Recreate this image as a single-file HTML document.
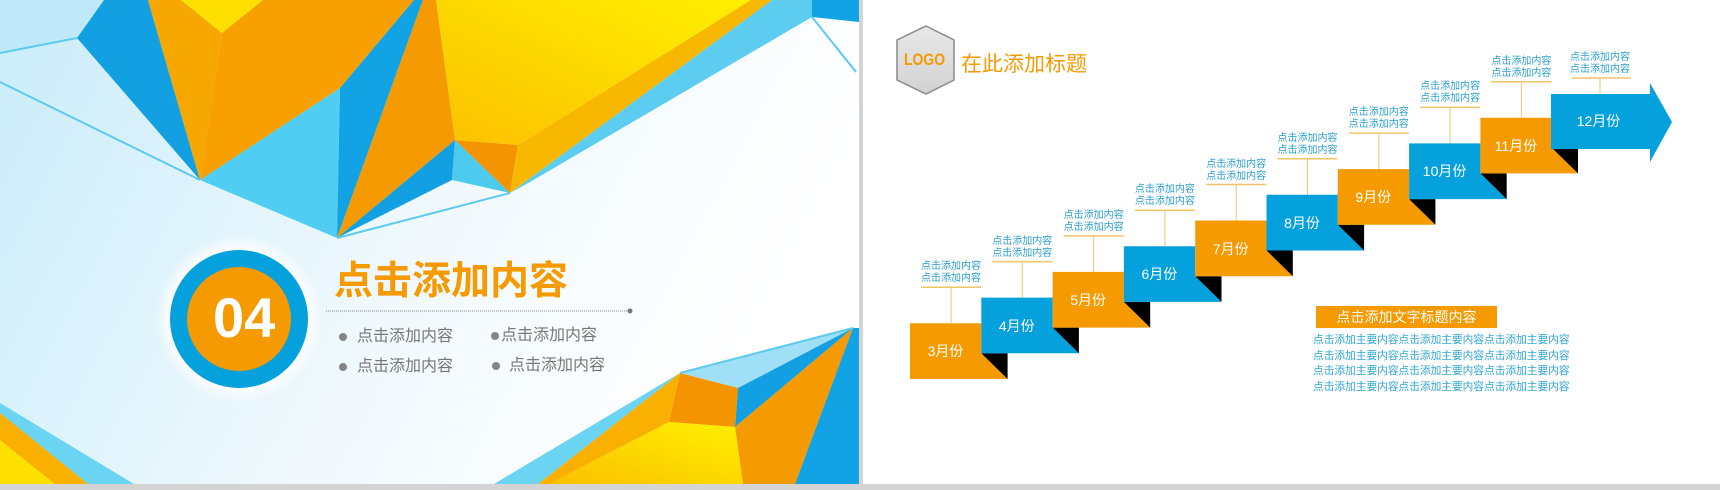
<!DOCTYPE html>
<html><head><meta charset="utf-8">
<style>
*{margin:0;padding:0;box-sizing:border-box}
body{width:1720px;height:490px;overflow:hidden;background:#d4d4d4;position:relative;font-family:"Liberation Sans","Noto Sans CJK SC",sans-serif}
.t{position:absolute;white-space:nowrap;line-height:1}
.lbl{position:absolute;font-size:10px;color:#2a9fd0;text-align:center;width:70px;line-height:12px;font-family:"Liberation Sans","Noto Sans CJK SC",sans-serif}
.mon{position:absolute;color:#fff;font-size:14px;text-align:center;width:71px;line-height:1}
</style></head><body>
<svg width="1720" height="490" style="position:absolute;left:0;top:0">
<defs>
<linearGradient id="bg" x1="0" y1="0" x2="1" y2="0.3">
<stop offset="0" stop-color="#c9ecfa"/><stop offset="0.6" stop-color="#f1f9fd"/><stop offset="1" stop-color="#ffffff"/></linearGradient>
<linearGradient id="yel" x1="0" y1="1" x2="1" y2="0"><stop offset="0" stop-color="#fbc000"/><stop offset="1" stop-color="#fff000"/></linearGradient>
<linearGradient id="hex" x1="0" y1="0" x2="0" y2="1"><stop offset="0" stop-color="#e8e8e8"/><stop offset="1" stop-color="#d2d2d2"/></linearGradient>
<radialGradient id="glow"><stop offset="0.8" stop-color="#fff"/><stop offset="1" stop-color="#fff" stop-opacity="0"/></radialGradient>
</defs>
<rect x="0" y="0" width="859" height="484" fill="url(#bg)"/>
<rect x="863" y="0" width="857" height="484" fill="#ffffff"/>
<polygon points="0,0 104,0 77,38 0,53" fill="#bfe9f8"/>
<polygon points="77,38 104,0 148,0 200,180" fill="#12a0e2"/>
<polygon points="148,0 181,0 222,33 200,180" fill="#f7a800"/>
<polygon points="222,33 181,0 263,0" fill="#fde000"/>
<polygon points="222,33 263,0 414,0 340,88 200,180" fill="#f8a000"/>
<polygon points="340,88 200,180 337,238" fill="#4fcdf2"/>
<polygon points="340,88 414,0 423,0 337,238" fill="#12a3e4"/>
<polygon points="423,0 436,0 455,140 337,238" fill="#f59a00"/>
<polygon points="337,238 455,140 452,180" fill="#12a0e2"/>
<polygon points="455,140 452,180 510,193" fill="#4ccbef"/>
<polygon points="455,140 518,145 510,193" fill="#f39400"/>
<polygon points="436,0 751,0 518,145 455,140" fill="url(#yel)"/>
<polygon points="751,0 772,0 510,193 518,145" fill="#f9b800"/>
<polygon points="772,0 812,0 812,17 530,182 510,193" fill="#5ccdf0"/>
<polygon points="812,0 859,0 859,22 812,17" fill="#12a3e4"/>
<g stroke="#5dcaf0" stroke-width="2" fill="none">
<line x1="0" y1="53" x2="77" y2="38"/><line x1="0" y1="82" x2="200" y2="180"/>
<line x1="337" y1="238" x2="510" y2="193"/><line x1="812" y1="17" x2="856" y2="72"/>
</g>
<polygon points="680,373 853,328 738,388" fill="#9fe0f6"/>
<polygon points="738,388 853,328 735,427" fill="#12a0e2"/>
<polygon points="735,427 853,328 795,484 743,484" fill="#f59a00"/>
<polygon points="853,328 859,328 859,484 795,484" fill="#12a3e4"/>
<polygon points="680,373 738,388 735,427 669,422" fill="#f39400"/>
<polygon points="669,422 735,427 743,484 549,484" fill="url(#yel)"/>
<polygon points="680,373 669,422 549,484 538,484" fill="#f9b000"/>
<polygon points="680,373 538,484 494,484" fill="#6ad4f2"/>
<line x1="680" y1="373" x2="853" y2="328" stroke="#5dcaf0" stroke-width="2"/>
<polygon points="0,403 134,484 88,484 0,413" fill="#6ad4f2"/>
<polygon points="0,413 88,484 0,484" fill="#f9b000"/>
<polygon points="0,440 55,484 0,484" fill="#fde000"/>
<circle cx="239" cy="319" r="84" fill="url(#glow)"/>
<circle cx="239" cy="319" r="69" fill="#04a1dc"/>
<circle cx="239" cy="319" r="52" fill="#f59a00"/>
<line x1="326" y1="311" x2="628" y2="311" stroke="#888" stroke-width="1" stroke-dasharray="1,1"/>
<circle cx="630" cy="311" r="2.5" fill="#777"/>
<g fill="#858585"><circle cx="343" cy="337" r="4"/><circle cx="343" cy="367" r="4"/><circle cx="495" cy="336" r="4"/><circle cx="496" cy="366" r="4"/></g>
<polygon points="926,26 954,40 954,80 926,94 897,80 897,40" fill="url(#hex)" stroke="#8a8a8a" stroke-width="1.5"/>
<g id="steps"></g>
<polygon points="1551,94 1650,94 1650,83 1672,122 1650,162 1650,149 1551,149" fill="#05a1dd"/>
<rect x="1316" y="306" width="181" height="22" fill="#f59a00"/>
</svg>
<div class="t" style="left:213px;top:290px;font-size:56px;font-weight:bold;color:#fff">04</div>
<div class="t" style="left:334px;top:262px;font-size:39px;font-weight:bold;color:#f59a00">点击添加内容</div>
<div class="t" style="left:357px;top:329px;font-size:16px;color:#777">点击添加内容</div>
<div class="t" style="left:357px;top:359px;font-size:16px;color:#777">点击添加内容</div>
<div class="t" style="left:501px;top:328px;font-size:16px;color:#777">点击添加内容</div>
<div class="t" style="left:509px;top:358px;font-size:16px;color:#777">点击添加内容</div>
<div class="t" style="left:904px;top:51px;font-size:17px;font-weight:bold;color:#f59a00;transform:scaleX(0.82);transform-origin:0 0">LOGO</div>
<div class="t" style="left:961px;top:54px;font-size:21px;color:#f59a00">在此添加标题</div>
<div class="t" style="left:1316px;top:310px;width:181px;text-align:center;font-size:14px;color:#fff">点击添加文字标题内容</div>
<div class="t" style="left:1313px;top:333px;font-size:10.7px;line-height:15.5px;color:#2fa6d6">点击添加主要内容点击添加主要内容点击添加主要内容<br>点击添加主要内容点击添加主要内容点击添加主要内容<br>点击添加主要内容点击添加主要内容点击添加主要内容<br>点击添加主要内容点击添加主要内容点击添加主要内容</div>
<div id="lab"></div>
<script>
var g=document.getElementById('steps'),L=document.getElementById('lab'),s='',h='';
var ms=['3','4','5','6','7','8','9','10','11'];
for(var i=0;i<9;i++){
 var x=910+71.3*i,t=323.3-25.7*i,c=i%2?'#05a1dd':'#f59a00';
 s+='<polygon points="'+x+','+t+' '+(x+71.3)+','+t+' '+(x+71.3)+','+(t+30)+' '+(x+97.6)+','+(t+55.7)+' '+x+','+(t+55.7)+'" fill="'+c+'"/>';
 s+='<polygon points="'+(x+71.3)+','+(t+30)+' '+(x+97.6)+','+(t+30)+' '+(x+97.6)+','+(t+55.7)+'" fill="#000"/>';
 var cx=x+41;
 s+='<line x1="'+cx+'" y1="'+t+'" x2="'+cx+'" y2="'+(t-36)+'" stroke="#f2c46a" stroke-width="1"/>';
 s+='<line x1="'+(cx-30)+'" y1="'+(t-36)+'" x2="'+(cx+30)+'" y2="'+(t-36)+'" stroke="#f2c46a" stroke-width="1.5"/>';
 h+='<div class="lbl" style="left:'+(cx-35)+'px;top:'+(t-62)+'px">点击添加内容<br>点击添加内容</div>';
 h+='<div class="mon" style="left:'+x+'px;top:'+(t+21)+'px">'+ms[i]+'月份</div>';
}
s+='<line x1="1600" y1="94" x2="1600" y2="78" stroke="#f2c46a"/><line x1="1572" y1="78" x2="1631" y2="78" stroke="#f2c46a" stroke-width="1.5"/>';
h+='<div class="lbl" style="left:1565px;top:52px">点击添加内容<br>点击添加内容</div>';
h+='<div class="mon" style="left:1563px;top:114px">12月份</div>';
g.innerHTML=s;L.innerHTML=h;
</script>
</body></html>
